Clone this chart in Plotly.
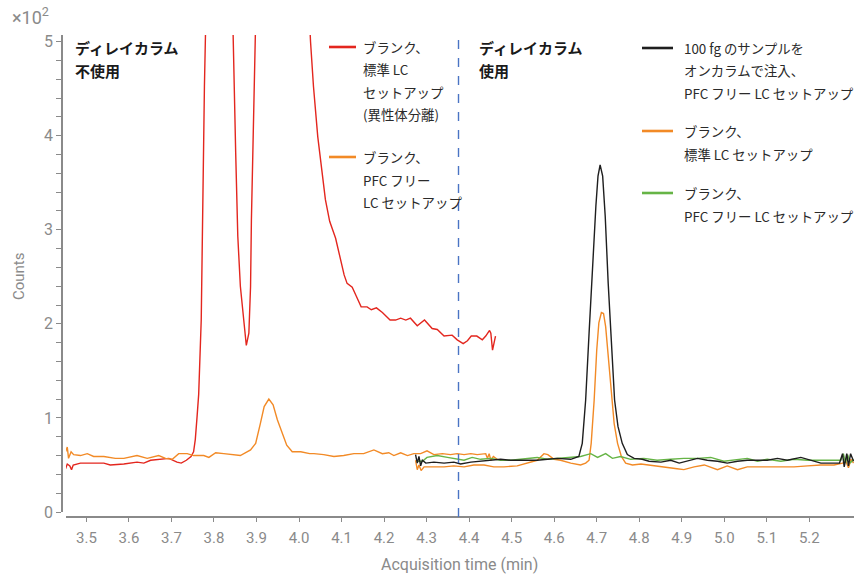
import plotly.graph_objects as go

# ---- chromatogram data (time in min, counts in units of 10^2) ----
# Without delay column: blank, standard LC setup (isomer separation)
red_t = [3.451, 3.455, 3.461, 3.465, 3.469, 3.486, 3.517, 3.541, 3.556, 3.588,
         3.619, 3.635, 3.651, 3.674, 3.694, 3.713, 3.723, 3.735, 3.746, 3.752,
         3.756, 3.760, 3.764, 3.770, 3.774, 3.7775, 3.781, 3.79, 3.81, 3.83,
         3.843, 3.845, 3.851, 3.856, 3.862, 3.870, 3.876, 3.882, 3.886, 3.888,
         3.891, 3.894, 3.897, 3.93, 3.97, 4.01, 4.025, 4.027, 4.034, 4.044,
         4.062, 4.072, 4.086, 4.096, 4.106, 4.113, 4.125, 4.135, 4.146, 4.160,
         4.170, 4.182, 4.196, 4.214, 4.227, 4.239, 4.251, 4.262, 4.278, 4.295,
         4.313, 4.325, 4.341, 4.360, 4.372, 4.386, 4.396, 4.405, 4.418, 4.431,
         4.439, 4.448, 4.451, 4.455, 4.459, 4.462]
red_v = [0.46, 0.51, 0.49, 0.45, 0.50, 0.52, 0.52, 0.52, 0.50, 0.51,
         0.53, 0.52, 0.55, 0.56, 0.57, 0.53, 0.52, 0.55, 0.59, 0.64,
         0.77, 1.00, 1.25, 2.04, 3.46, 4.52, 5.30, 7.5, 9.0, 7.5,
         5.40, 5.07, 3.82, 2.93, 2.40, 2.04, 1.77, 1.90, 2.40, 3.11,
         4.17, 5.07, 5.60, 12.0, 11.0, 7.0, 5.20, 5.00, 4.52, 3.99,
         3.32, 3.09, 2.91, 2.72, 2.52, 2.43, 2.39, 2.29, 2.18, 2.18,
         2.15, 2.17, 2.12, 2.04, 2.04, 2.06, 2.04, 2.06, 1.98, 2.04,
         1.95, 1.94, 1.87, 1.88, 1.83, 1.79, 1.82, 1.87, 1.87, 1.83,
         1.87, 1.93, 1.90, 1.72, 1.83, 1.87]

# Without delay column: blank, PFC-free LC setup
org1_t = [3.451, 3.455, 3.458, 3.464, 3.470, 3.486, 3.502, 3.517, 3.541, 3.568,
          3.588, 3.619, 3.643, 3.670, 3.686, 3.702, 3.717, 3.737, 3.752, 3.776,
          3.788, 3.804, 3.823, 3.843, 3.862, 3.886, 3.898, 3.909, 3.918, 3.929,
          3.939, 3.949, 3.958, 3.971, 3.984, 4.004, 4.025, 4.035, 4.058, 4.082,
          4.105, 4.129, 4.152, 4.176, 4.196, 4.211, 4.223, 4.239, 4.255, 4.270,
          4.286, 4.301, 4.317, 4.337, 4.356, 4.372, 4.388, 4.404, 4.419, 4.439,
          4.443, 4.447, 4.451, 4.457, 4.466]
org1_v = [0.64, 0.69, 0.57, 0.64, 0.61, 0.60, 0.62, 0.59, 0.59, 0.57,
          0.57, 0.60, 0.57, 0.60, 0.57, 0.56, 0.62, 0.62, 0.60, 0.60,
          0.58, 0.63, 0.62, 0.61, 0.60, 0.66, 0.73, 0.94, 1.12, 1.20,
          1.14, 0.98, 0.87, 0.71, 0.64, 0.64, 0.62, 0.62, 0.61, 0.59,
          0.60, 0.62, 0.62, 0.66, 0.62, 0.63, 0.60, 0.63, 0.60, 0.62,
          0.62, 0.65, 0.61, 0.62, 0.61, 0.62, 0.61, 0.62, 0.61, 0.62,
          0.57, 0.62, 0.55, 0.59, 0.56]

# With delay column: 100 fg injected on column, PFC-free LC setup
blk_t = [4.274, 4.278, 4.282, 4.286, 4.290, 4.298, 4.317, 4.341, 4.364, 4.380,
         4.404, 4.427, 4.451, 4.474, 4.498, 4.529, 4.560, 4.584, 4.607, 4.639,
         4.658, 4.666, 4.674, 4.682, 4.690, 4.698, 4.703, 4.708, 4.714, 4.720,
         4.727, 4.735, 4.742, 4.750, 4.760, 4.772, 4.788, 4.807, 4.823, 4.851,
         4.874, 4.894, 4.921, 4.937, 4.960, 4.984, 5.007, 5.031, 5.054, 5.078,
         5.101, 5.125, 5.148, 5.180, 5.204, 5.227, 5.251, 5.271, 5.278, 5.282,
         5.288, 5.292, 5.297, 5.304]
blk_v = [0.61, 0.52, 0.59, 0.49, 0.55, 0.52, 0.53, 0.52, 0.53, 0.51,
         0.53, 0.54, 0.55, 0.56, 0.55, 0.55, 0.55, 0.56, 0.57, 0.56,
         0.59, 0.73, 1.19, 1.90, 2.61, 3.25, 3.57, 3.69, 3.57, 3.14,
         2.43, 1.72, 1.19, 0.91, 0.73, 0.61, 0.57, 0.56, 0.54, 0.53,
         0.55, 0.52, 0.55, 0.57, 0.55, 0.54, 0.52, 0.54, 0.55, 0.55,
         0.55, 0.57, 0.55, 0.58, 0.55, 0.52, 0.52, 0.52, 0.62, 0.48,
         0.62, 0.49, 0.62, 0.54]

# With delay column: blank, standard LC setup
org2_t = [4.274, 4.278, 4.282, 4.287, 4.294, 4.317, 4.341, 4.364, 4.388, 4.411,
          4.435, 4.458, 4.482, 4.513, 4.537, 4.560, 4.576, 4.585, 4.600, 4.615,
          4.639, 4.662, 4.674, 4.682, 4.687, 4.694, 4.700, 4.705, 4.711, 4.716,
          4.721, 4.727, 4.733, 4.741, 4.749, 4.758, 4.768, 4.784, 4.804, 4.823,
          4.842, 4.866, 4.889, 4.905, 4.929, 4.953, 4.984, 5.007, 5.031, 5.054,
          5.086, 5.106, 5.133, 5.164, 5.196, 5.227, 5.258, 5.278, 5.286, 5.292,
          5.298, 5.304]
org2_v = [0.55, 0.45, 0.50, 0.44, 0.48, 0.48, 0.48, 0.49, 0.48, 0.50,
          0.50, 0.48, 0.48, 0.49, 0.52, 0.55, 0.62, 0.61, 0.56, 0.55,
          0.52, 0.50, 0.52, 0.55, 0.73, 1.19, 1.72, 2.01, 2.12, 2.11,
          1.97, 1.65, 1.30, 0.94, 0.73, 0.59, 0.52, 0.50, 0.51, 0.50,
          0.49, 0.48, 0.46, 0.45, 0.48, 0.50, 0.45, 0.49, 0.45, 0.48,
          0.48, 0.48, 0.48, 0.48, 0.49, 0.50, 0.50, 0.52, 0.54, 0.47,
          0.56, 0.52]

# With delay column: blank, PFC-free LC setup
grn_t = [4.278, 4.290, 4.301, 4.325, 4.349, 4.372, 4.388, 4.407, 4.427, 4.451,
         4.474, 4.498, 4.521, 4.560, 4.584, 4.607, 4.639, 4.662, 4.686, 4.702,
         4.721, 4.737, 4.756, 4.780, 4.811, 4.842, 4.874, 4.905, 4.937, 4.968,
         4.999, 5.031, 5.054, 5.078, 5.101, 5.133, 5.164, 5.196, 5.227, 5.258,
         5.274, 5.280, 5.285, 5.290, 5.296, 5.304]
grn_v = [0.54, 0.54, 0.58, 0.60, 0.58, 0.56, 0.55, 0.58, 0.56, 0.57,
         0.55, 0.55, 0.56, 0.58, 0.56, 0.57, 0.58, 0.59, 0.62, 0.58,
         0.62, 0.57, 0.59, 0.56, 0.57, 0.55, 0.56, 0.57, 0.57, 0.58,
         0.54, 0.56, 0.57, 0.54, 0.56, 0.54, 0.56, 0.55, 0.55, 0.55,
         0.55, 0.62, 0.52, 0.61, 0.52, 0.56]

x_ticks = [3.5, 3.6, 3.7, 3.8, 3.9, 4.0, 4.1, 4.2, 4.3, 4.4, 4.5, 4.6, 4.7,
           4.8, 4.9, 5.0, 5.1, 5.2]
# y ticks every 0.2, labelled only at whole numbers
y_ticks = [round(i * 0.2, 1) for i in range(26)]
y_labels = [f"{v:.0f}" if abs(v - round(v)) < 1e-9 else "" for v in y_ticks]
delay_switch_t = 4.375

# ---- styling ----
RED, ORANGE, BLACK, GREEN = "#e3261e", "#f28a26", "#1e1e1e", "#66b446"
GRAY = "#8a8a8a"
JP = "Noto Sans CJK JP"
TICKFONT = "Roboto"

W, H = 867, 577
ML, MR, MT, MB = 62, 13, 35, 60
PW, PH = W - ML - MR, H - MT - MB


def fx(px):
    return (px - ML) / PW


def fy(py):
    return (H - MB - py) / PH


fig = go.Figure()
line_w = 1.4
fig.add_trace(go.Scatter(x=red_t, y=red_v, mode="lines",
                         line=dict(color=RED, width=line_w)))
fig.add_trace(go.Scatter(x=org1_t, y=org1_v, mode="lines",
                         line=dict(color=ORANGE, width=line_w)))
fig.add_trace(go.Scatter(x=org2_t, y=org2_v, mode="lines",
                         line=dict(color=ORANGE, width=line_w)))
fig.add_trace(go.Scatter(x=grn_t, y=grn_v, mode="lines",
                         line=dict(color=GREEN, width=line_w)))
fig.add_trace(go.Scatter(x=blk_t, y=blk_v, mode="lines",
                         line=dict(color=BLACK, width=line_w)))

shapes = [dict(type="line", xref="x", yref="paper", x0=delay_switch_t,
               x1=delay_switch_t, y0=0, y1=1,
               line=dict(color="#4a74c4", width=1.4, dash="dash"))]
annotations = []

# section headings
for px, lines in [(73, ["ディレイカラム", "不使用"]), (477, ["ディレイカラム", "使用"])]:
    for i, txt in enumerate(lines):
        annotations.append(dict(xref="paper", yref="paper", x=fx(px), y=fy(47 + i * 24),
                                text=f"<b>{txt}</b>", showarrow=False, xanchor="left",
                                yanchor="middle", font=dict(family=JP, size=15, color="#1a1a1a")))

# legend blocks: (line x0, line x1, text x, [(color, first-line y, [lines])])
legend_blocks = [
    (329, 356, 361, [
        (RED, 47, ["ブランク、", "標準 LC", "セットアップ", "(異性体分離)"]),
        (ORANGE, 157, ["ブランク、", "PFC フリー", "LC セットアップ"]),
    ]),
    (642, 673, 682, [
        (BLACK, 48, ["100 fg のサンプルを", "オンカラムで注入、", "PFC フリー LC セットアップ"]),
        (ORANGE, 131, ["ブランク、", "標準 LC セットアップ"]),
        (GREEN, 193, ["ブランク、", "PFC フリー LC セットアップ"]),
    ]),
]
for lx0, lx1, tx, items in legend_blocks:
    for color, y0, lines in items:
        shapes.append(dict(type="line", xref="paper", yref="paper", x0=fx(lx0), x1=fx(lx1),
                           y0=fy(y0), y1=fy(y0), line=dict(color=color, width=2.6)))
        for i, txt in enumerate(lines):
            annotations.append(dict(xref="paper", yref="paper", x=fx(tx), y=fy(y0 + i * 22.5),
                                    text=txt, showarrow=False, xanchor="left", yanchor="middle",
                                    font=dict(family=JP, size=13.4, color="#2a2a2a")))

# axis multiplier and axis titles
annotations.append(dict(xref="paper", yref="paper", x=fx(10), y=fy(16), text="×10<sup>2</sup>",
                        showarrow=False, xanchor="left", yanchor="middle",
                        font=dict(family=TICKFONT, size=18, color=GRAY)))
annotations.append(dict(xref="paper", yref="paper", x=fx(459), y=fy(564),
                        text="Acquisition time (min)", showarrow=False,
                        xanchor="center", yanchor="middle",
                        font=dict(family=TICKFONT, size=16, color=GRAY)))
annotations.append(dict(xref="paper", yref="paper", x=fx(19), y=fy(276), text="Counts",
                        showarrow=False, textangle=-90, xanchor="center", yanchor="middle",
                        font=dict(family=TICKFONT, size=15, color=GRAY)))

fig.update_layout(
    width=W, height=H,
    margin=dict(l=ML, r=MR, t=MT, b=MB, pad=0, autoexpand=False),
    paper_bgcolor="white", plot_bgcolor="white",
    showlegend=False,
    shapes=shapes, annotations=annotations,
    xaxis=dict(range=[3.452, 5.305], domain=[fx(66), 1], anchor="free", position=0,
               automargin=False,
               tickvals=x_ticks, ticktext=[f"{v:.1f}" for v in x_ticks],
               ticks="outside", ticklen=4, tickwidth=1, tickcolor=GRAY,
               ticklabelstandoff=3,
               showline=True, linecolor=GRAY, linewidth=1.5, showgrid=False, zeroline=False,
               tickfont=dict(family=TICKFONT, size=15, color=GRAY)),
    yaxis=dict(range=[0, 5.07], domain=[fy(512), 1], anchor="free", position=0,
               automargin=False,
               tickvals=y_ticks, ticktext=y_labels,
               ticks="outside", ticklen=5, tickwidth=1, tickcolor=GRAY,
               showline=True, linecolor=GRAY, linewidth=1.5, showgrid=False, zeroline=False,
               tickfont=dict(family=TICKFONT, size=16, color=GRAY)),
)

fig.write_html("out.html")
